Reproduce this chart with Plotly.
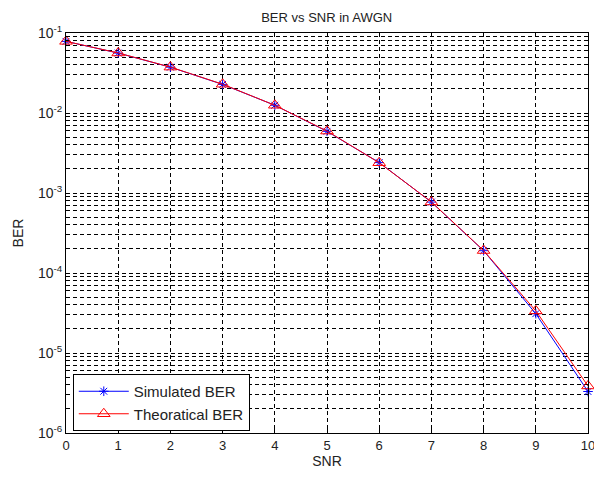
import plotly.graph_objects as go

snr = [0, 1, 2, 3, 4, 5, 6, 7, 8, 9, 10]
ber_sim = [0.0786, 0.0561, 0.0374, 0.0228, 0.0125, 0.0059, 0.0024, 0.00077, 0.00019, 3.1e-5, 3.3e-6]
ber_theory = [0.0786, 0.0563, 0.0375, 0.0229, 0.0125, 0.00595, 0.00239, 0.000773, 0.000191, 3.36e-5, 3.87e-6]
ytick_vals = [1e-6, 1e-5, 1e-4, 1e-3, 1e-2, 1e-1]
ytick_text = ["10<sup>-6</sup>", "10<sup>-5</sup>", "10<sup>-4</sup>", "10<sup>-3</sup>", "10<sup>-2</sup>", "10<sup>-1</sup>"]
xtick_vals = list(range(0, 11))

font = dict(family="Liberation Sans, Arial, sans-serif", size=12, color="#222")

fig = go.Figure()
fig.add_trace(go.Scatter(
    x=snr, y=ber_sim, mode="lines+markers", name="Simulated BER", cliponaxis=False,
    line=dict(color="blue", width=1),
    marker=dict(symbol="asterisk-open", size=8, color="blue", line=dict(color="blue", width=1)),
))
fig.add_trace(go.Scatter(
    x=snr, y=ber_theory, mode="lines+markers", name="Theoratical BER", cliponaxis=False,
    line=dict(color="red", width=1),
    marker=dict(symbol="triangle-up-open", size=11, color="red", line=dict(color="red", width=1)),
))

grid_dash = "4px,3px"
fig.update_layout(
    width=594, height=477,
    margin=dict(l=66, r=6, t=33, b=44, autoexpand=False),
    paper_bgcolor="white", plot_bgcolor="white",
    font=font,
    title=dict(text="BER vs SNR in AWGN", x=0.55, xanchor="center", y=0.964, yanchor="middle",
               font=dict(size=13, family=font["family"], color="#222")),
    legend=dict(x=0.013, y=0.005, xanchor="left", yanchor="bottom",
                bgcolor="white", bordercolor="black", borderwidth=1,
                font=dict(size=15, family=font["family"], color="#222"),
                tracegroupgap=0, itemwidth=50),
    xaxis=dict(
        range=[0, 10], tickvals=xtick_vals, ticks="inside", ticklen=4, tickcolor="black",
        showline=True, linecolor="black", linewidth=1, mirror="ticks",
        showgrid=True, gridcolor="black", gridwidth=1, griddash=grid_dash,
        zeroline=False, title=dict(text="SNR", standoff=4), automargin=False,
        tickfont=dict(size=13), ticklabeloverflow="allow",
    ),
    yaxis=dict(
        type="log", range=[-6, -1], tickvals=ytick_vals, ticktext=ytick_text,
        ticks="inside", ticklen=4, tickcolor="black",
        showline=True, linecolor="black", linewidth=1, mirror="ticks",
        showgrid=True, gridcolor="black", gridwidth=1, griddash=grid_dash,
        zeroline=False, title=dict(text="BER", standoff=11), automargin=False,
        tickfont=dict(size=14), ticklabeloverflow="allow",
        minor=dict(dtick="D1", showgrid=True, gridcolor="black", gridwidth=1, griddash=grid_dash,
                   ticks="inside", ticklen=2, tickcolor="black"),
    ),
)

fig.write_html("out.html", config={"displayModeBar": False},
               post_script="document.body.style.margin='0';")
